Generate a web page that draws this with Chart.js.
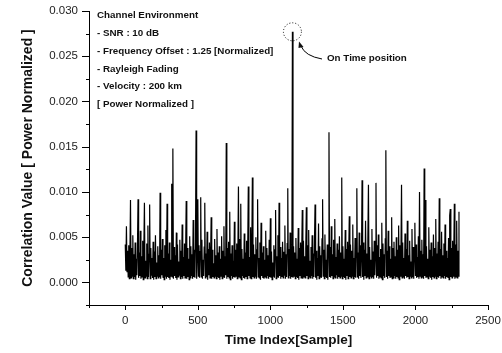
<!DOCTYPE html>
<html>
<head>
<meta charset="utf-8">
<script src="https://cdn.jsdelivr.net/npm/chart.js@4.4.1/dist/chart.umd.min.js"></script>
<style>
  body { margin: 0; background: #fff; }
  canvas { display: block; }
</style>
</head>
<body>
<canvas id="myChart" width="502" height="353"></canvas>
<script>
const ctx = document.getElementById('myChart');
const FONT = 'Arial, "Liberation Sans", sans-serif';

// one value every 4 samples (0..2300)
const sampleStep = 4;
const correlation = [
  0.0042, 0.0013, 0.0062, 0.0012, 0.0035, 0.0006, 0.0041, 0.0004, 0.0028, 0.0091, 0.0005, 0.0038, 0.0007, 0.0052, 0.0004, 0.0031,
  0.0006, 0.0044, 0.0003, 0.0026, 0.0008, 0.0039, 0.0092, 0.0005, 0.0033, 0.0007, 0.0057, 0.0004, 0.0029, 0.0006, 0.0046, 0.0003,
  0.0037, 0.0088, 0.0005, 0.0024, 0.0007, 0.0043, 0.0004, 0.0063, 0.0006, 0.0031, 0.0086, 0.0004, 0.0038, 0.0008, 0.0027, 0.0005,
  0.0045, 0.0003, 0.0034, 0.0006, 0.0052, 0.0004, 0.0022, 0.0007, 0.0040, 0.0005, 0.0030, 0.0006, 0.0099, 0.0004, 0.0036, 0.0008,
  0.0048, 0.0005, 0.0027, 0.0003, 0.0041, 0.0007, 0.0058, 0.0004, 0.0087, 0.0006, 0.0032, 0.0005, 0.0044, 0.0003, 0.0025, 0.0007,
  0.0109, 0.0006, 0.0148, 0.0004, 0.0039, 0.0007, 0.0030, 0.0005, 0.0055, 0.0003, 0.0042, 0.0006, 0.0023, 0.0008, 0.0047, 0.0004,
  0.0035, 0.0006, 0.0064, 0.0004, 0.0028, 0.0007, 0.0043, 0.0005, 0.0033, 0.0090, 0.0004, 0.0038, 0.0006, 0.0026, 0.0003, 0.0051,
  0.0005, 0.0040, 0.0007, 0.0031, 0.0004, 0.0069, 0.0006, 0.0036, 0.0005, 0.0045, 0.0168, 0.0004, 0.0029, 0.0092, 0.0007, 0.0041,
  0.0005, 0.0034, 0.0094, 0.0006, 0.0047, 0.0004, 0.0025, 0.0007, 0.0039, 0.0088, 0.0005, 0.0032, 0.0006, 0.0056, 0.0003, 0.0037,
  0.0008, 0.0044, 0.0005, 0.0027, 0.0072, 0.0004, 0.0036, 0.0006, 0.0021, 0.0005, 0.0048, 0.0007, 0.0030, 0.0004, 0.0059, 0.0006,
  0.0033, 0.0005, 0.0040, 0.0003, 0.0026, 0.0007, 0.0051, 0.0004, 0.0035, 0.0006, 0.0062, 0.0005, 0.0029, 0.0008, 0.0154, 0.0004,
  0.0038, 0.0006, 0.0045, 0.0005, 0.0078, 0.0003, 0.0032, 0.0007, 0.0041, 0.0004, 0.0024, 0.0006, 0.0067, 0.0005, 0.0036, 0.0007,
  0.0043, 0.0004, 0.0030, 0.0106, 0.0006, 0.0048, 0.0005, 0.0087, 0.0003, 0.0037, 0.0007, 0.0026, 0.0005, 0.0054, 0.0004, 0.0033,
  0.0006, 0.0046, 0.0004, 0.0039, 0.0106, 0.0007, 0.0028, 0.0005, 0.0061, 0.0004, 0.0035, 0.0116, 0.0006, 0.0042, 0.0005, 0.0031,
  0.0007, 0.0050, 0.0004, 0.0036, 0.0092, 0.0006, 0.0027, 0.0005, 0.0044, 0.0003, 0.0066, 0.0007, 0.0033, 0.0005, 0.0040, 0.0004,
  0.0025, 0.0006, 0.0057, 0.0005, 0.0038, 0.0007, 0.0030, 0.0004, 0.0047, 0.0006, 0.0071, 0.0005, 0.0034, 0.0003, 0.0022, 0.0007,
  0.0041, 0.0005, 0.0036, 0.0080, 0.0004, 0.0029, 0.0006, 0.0052, 0.0005, 0.0088, 0.0007, 0.0039, 0.0004, 0.0027, 0.0006, 0.0045,
  0.0005, 0.0034, 0.0008, 0.0063, 0.0004, 0.0031, 0.0006, 0.0043, 0.0104, 0.0005, 0.0037, 0.0007, 0.0055, 0.0004, 0.0028, 0.0006,
  0.0277, 0.0005, 0.0040, 0.0007, 0.0033, 0.0004, 0.0049, 0.0006, 0.0026, 0.0005, 0.0060, 0.0003, 0.0038, 0.0007, 0.0044, 0.0005,
  0.0031, 0.0080, 0.0004, 0.0046, 0.0006, 0.0029, 0.0005, 0.0037, 0.0083, 0.0007, 0.0041, 0.0004, 0.0058, 0.0006, 0.0024, 0.0005,
  0.0039, 0.0007, 0.0052, 0.0004, 0.0032, 0.0006, 0.0045, 0.0086, 0.0005, 0.0035, 0.0003, 0.0027, 0.0007, 0.0065, 0.0004, 0.0040,
  0.0006, 0.0030, 0.0005, 0.0048, 0.0092, 0.0007, 0.0036, 0.0004, 0.0053, 0.0006, 0.0025, 0.0005, 0.0042, 0.0003, 0.0034, 0.0166,
  0.0006, 0.0039, 0.0005, 0.0062, 0.0007, 0.0031, 0.0004, 0.0047, 0.0006, 0.0070, 0.0005, 0.0028, 0.0008, 0.0043, 0.0004, 0.0036,
  0.0006, 0.0051, 0.0005, 0.0033, 0.0007, 0.0116, 0.0004, 0.0040, 0.0006, 0.0026, 0.0005, 0.0058, 0.0003, 0.0037, 0.0007, 0.0045,
  0.0004, 0.0030, 0.0073, 0.0006, 0.0042, 0.0005, 0.0035, 0.0007, 0.0064, 0.0004, 0.0027, 0.0006, 0.0049, 0.0005, 0.0038, 0.0104,
  0.0006, 0.0033, 0.0004, 0.0055, 0.0007, 0.0041, 0.0005, 0.0029, 0.0113, 0.0006, 0.0044, 0.0003, 0.0036, 0.0007, 0.0068, 0.0005,
  0.0032, 0.0006, 0.0047, 0.0108, 0.0004, 0.0039, 0.0007, 0.0025, 0.0005, 0.0059, 0.0006, 0.0034, 0.0004, 0.0046, 0.0008, 0.0030,
  0.0110, 0.0005, 0.0041, 0.0007, 0.0053, 0.0004, 0.0028, 0.0006, 0.0037, 0.0005, 0.0066, 0.0003, 0.0043, 0.0007, 0.0031, 0.0005,
  0.0048, 0.0146, 0.0006, 0.0035, 0.0004, 0.0057, 0.0007, 0.0040, 0.0005, 0.0026, 0.0006, 0.0072, 0.0004, 0.0038, 0.0005, 0.0045,
  0.0007, 0.0029, 0.0004, 0.0050, 0.0006, 0.0036, 0.0005, 0.0063, 0.0003, 0.0041, 0.0007, 0.0032, 0.0108, 0.0005, 0.0044, 0.0006,
  0.0027, 0.0004, 0.0054, 0.0007, 0.0037, 0.0005, 0.0068, 0.0006, 0.0030, 0.0004, 0.0046, 0.0007, 0.0023, 0.0005, 0.0059, 0.0006,
  0.0039, 0.0004, 0.0033, 0.0066, 0.0007, 0.0042, 0.0005, 0.0028, 0.0006, 0.0051, 0.0004, 0.0100, 0.0007, 0.0035, 0.0005, 0.0047,
  0.0006, 0.0031, 0.0004, 0.0126, 0.0007, 0.0091, 0.0005, 0.0040, 0.0006, 0.0026, 0.0004, 0.0061, 0.0007, 0.0036, 0.0005, 0.0044,
  0.0003, 0.0029, 0.0006, 0.0053, 0.0005, 0.0038, 0.0007, 0.0070, 0.0004, 0.0032, 0.0006, 0.0045, 0.0005, 0.0093, 0.0007, 0.0037,
  0.0004, 0.0056, 0.0006, 0.0030, 0.0005, 0.0043, 0.0007, 0.0064, 0.0004, 0.0035, 0.0006, 0.0027, 0.0005, 0.0049, 0.0003, 0.0074,
  0.0081, 0.0006, 0.0038, 0.0005, 0.0046, 0.0007, 0.0031, 0.0087, 0.0004, 0.0042, 0.0006, 0.0068, 0.0005, 0.0035, 0.0007, 0.0078
];
const onTimeSample = 1152;
const onTimeValue = 0.0277;

const xTickLabels = [0, 500, 1000, 1500, 2000, 2500];
const yTickLabels = [0.000, 0.005, 0.010, 0.015, 0.020, 0.025, 0.030];

const envLines = [
  'Channel Environment',
  '- SNR : 10 dB',
  '- Frequency Offset : 1.25 [Normalized]',
  '- Rayleigh Fading',
  '- Velocity : 200 km',
  '[ Power Normalized ]'
];

// ticks pointing outward, major longer than minor
const axisTicks = {
  id: 'axisTicks',
  afterDraw(chart) {
    const c = chart.ctx;
    const xs = chart.scales.x, ys = chart.scales.y;
    const area = chart.chartArea;
    c.save();
    c.strokeStyle = '#000';
    c.lineWidth = 1;
    c.beginPath();
    xs.ticks.forEach(t => {
      const px = Math.round(xs.getPixelForValue(t.value)) + 0.5;
      const len = xTickLabels.includes(t.value) ? 5 : 3;
      c.moveTo(px, area.bottom);
      c.lineTo(px, area.bottom + len);
    });
    ys.ticks.forEach(t => {
      const py = Math.round(ys.getPixelForValue(t.value)) + 0.5;
      const major = Math.round(t.value / 0.0025) % 2 === 0;
      c.moveTo(area.left, py);
      c.lineTo(area.left - (major ? 7 : 3), py);
    });
    c.stroke();
    c.restore();
  }
};

const notes = {
  id: 'notes',
  afterDraw(chart) {
    const c = chart.ctx;
    const xs = chart.scales.x, ys = chart.scales.y;
    c.save();
    c.fillStyle = '#111';
    c.font = 'bold 9.8px ' + FONT;
    c.textBaseline = 'middle';
    envLines.forEach((s, i) => c.fillText(s, 97, 15.7 + i * 17.7));
    c.fillText('On Time position', 327, 58);

    // dotted circle round the peak
    const cx = xs.getPixelForValue(onTimeSample);
    const cy = ys.getPixelForValue(onTimeValue);
    c.strokeStyle = '#000';
    c.lineWidth = 1;
    c.setLineDash([1, 2]);
    c.beginPath();
    c.arc(cx, cy, 9, 0, Math.PI * 2);
    c.stroke();
    c.setLineDash([]);

    // curved arrow from the label
    c.beginPath();
    c.moveTo(322, 59);
    c.quadraticCurveTo(305, 56, 301, 46);
    c.stroke();
    c.beginPath();
    c.moveTo(299, 41.5);
    c.lineTo(303.5, 47);
    c.lineTo(298.5, 48);
    c.closePath();
    c.fill();
    c.restore();
  }
};

new Chart(ctx, {
  type: 'line',
  data: {
    datasets: [{
      data: correlation.map((v, i) => ({ x: i * sampleStep, y: v })),
      borderColor: '#000',
      borderWidth: 1.2,
      pointRadius: 0,
      tension: 0,
      fill: false
    }]
  },
  options: {
    responsive: false,
    animation: false,
    events: [],
    layout: { padding: { left: 0, top: 11, right: 14, bottom: 0 } },
    plugins: {
      legend: { display: false },
      tooltip: { enabled: false }
    },
    scales: {
      x: {
        type: 'linear',
        min: -250,
        max: 2500,
        grid: { display: false, drawTicks: false },
        border: { display: true, color: '#000', width: 1 },
        ticks: {
          stepSize: 250,
          autoSkip: false,
          maxRotation: 0,
          padding: 9,
          color: '#222',
          font: { family: FONT, size: 11.5 },
          callback: v => xTickLabels.includes(v) ? String(v) : ''
        },
        title: {
          display: true,
          text: 'Time Index[Sample]',
          color: '#111',
          font: { family: FONT, size: 13.5, weight: 'bold' },
          padding: { top: 4, bottom: 5 }
        },
        afterFit: s => { s.height = 48; s.paddingLeft = 0; s.paddingRight = 0; }
      },
      y: {
        min: -0.0025,
        max: 0.030,
        grid: { display: false, drawTicks: false },
        border: { display: true, color: '#000', width: 1 },
        ticks: {
          stepSize: 0.0025,
          autoSkip: false,
          padding: 11,
          color: '#222',
          font: { family: FONT, size: 11.5 },
          callback: v => {
            const k = Math.round(v / 0.0025);
            return k % 2 === 0 && yTickLabels.includes(+(k * 0.0025).toFixed(4)) ? (k * 0.0025).toFixed(3) : '';
          }
        },
        title: {
          display: true,
          text: 'Correlation Value [ Power Normalized ]',
          color: '#111',
          font: { family: FONT, size: 14, weight: 'bold' },
          padding: { top: 20, bottom: 2 }
        },
        afterFit: s => { s.width = 89; s.paddingTop = 0; s.paddingBottom = 0; }
      }
    }
  },
  plugins: [axisTicks, notes]
});
</script>
</body>
</html>
